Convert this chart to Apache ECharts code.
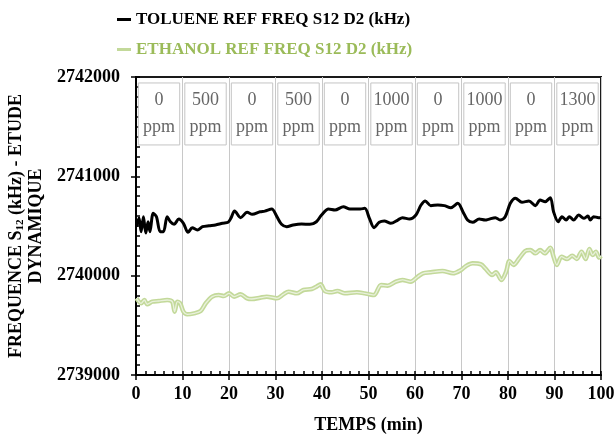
<!DOCTYPE html>
<html>
<head>
<meta charset="utf-8">
<script src="https://cdn.jsdelivr.net/npm/echarts@6/dist/echarts.min.js"></script>
<style>html,body{margin:0;padding:0;background:#fff}#c{width:616px;height:434px}</style>
</head>
<body>
<div id="c"></div>
<script>
// ---- data ----
const tolueneTime = [0.1,0.65,1.1,1.6,2.1,2.6,3.0,3.7,4.4,5.2,5.9,6.7,7.4,8.2,9.2,10.2,11.2,12.1,13.2,14.3,15.7,17.1,18.6,19.8,20.4,21.2,22.5,23.9,25.0,26.7,27.7,29.2,30.3,31.3,32.4,33.8,35.6,37.4,38.8,39.9,41.4,42.8,44.6,46.0,48.2,49.2,50.2,51.2,52.3,53.4,54.8,56.3,57.3,58.8,60.2,61.3,62.2,63.4,64.9,66.3,67.7,69.2,70.3,71.3,72.4,73.8,75.1,75.8,77.3,78.3,79.4,80.5,81.6,83.0,84.5,85.9,86.9,88.0,89.1,89.8,90.8,91.6,92.5,93.2,94.1,95.2,96.3,97.2,97.7,98.4,99.5,100];
const tolueneFreq = [2740493,2740580,2740443,2740594,2740430,2740543,2740443,2740628,2740594,2740443,2740443,2740594,2740543,2740517,2740570,2740527,2740436,2740483,2740460,2740493,2740503,2740510,2740527,2740537,2740577,2740651,2740584,2740638,2740618,2740644,2740650,2740671,2740594,2740517,2740493,2740510,2740520,2740517,2740543,2740611,2740671,2740661,2740694,2740671,2740671,2740678,2740577,2740483,2740537,2740550,2740527,2740560,2740584,2740570,2740611,2740711,2740752,2740705,2740711,2740705,2740684,2740728,2740644,2740560,2740537,2740570,2740560,2740567,2740584,2740560,2740594,2740728,2740779,2740738,2740752,2740705,2740762,2740745,2740785,2740644,2740543,2740594,2740560,2740594,2740560,2740611,2740577,2740600,2740560,2740594,2740584,2740586];
const ethanolTime = [0.1,1.1,1.8,2.4,3.5,4.9,6.7,7.8,8.3,8.9,9.5,10.2,11.0,12.5,13.9,15.0,16.4,17.8,18.9,20.0,21.1,22.5,23.9,24.9,26.7,28.1,30.3,31.7,32.8,34.6,36.0,37.8,38.8,39.7,40.6,42.1,43.3,44.9,47.5,49.2,50.2,51.2,52.7,54.1,55.9,57.3,59.1,60.6,61.7,63.4,65.9,68.2,69.9,71.0,72.4,74.2,75.1,76.6,77.4,78.6,79.6,80.3,81.2,82.3,83.7,84.8,85.9,86.9,87.9,89.1,89.8,90.5,91.5,92.7,93.8,94.8,95.8,96.7,97.5,98.2,98.9,99.6,100];
const ethanolFreq = [2739772,2739722,2739755,2739712,2739738,2739745,2739755,2739738,2739638,2739738,2739722,2739638,2739611,2739621,2739644,2739722,2739789,2739805,2739795,2739822,2739789,2739812,2739772,2739765,2739778,2739789,2739772,2739812,2739839,2739822,2739856,2739866,2739889,2739913,2739846,2739832,2739846,2739822,2739832,2739822,2739812,2739805,2739906,2739899,2739940,2739957,2739940,2739990,2740024,2740034,2740047,2740024,2740057,2740098,2740124,2740114,2740074,2740007,2740034,2739957,2740040,2740148,2740108,2740168,2740248,2740258,2740225,2740258,2740225,2740282,2740191,2740108,2740191,2740168,2740201,2740168,2740242,2740168,2740269,2740208,2740242,2740182,2740200];
const phaseStart = [0,10,20,30,40,50,60,70,80,90];
const phaseConc = ['0','500','0','500','0','1000','0','1000','0','1300'];
const xTicks = [0,10,20,30,40,50,60,70,80,90,100];
const yTicks = [2739000,2740000,2741000,2742000];
const seriesNames = ['TOLUENE REF FREQ S12 D2 (kHz)','ETHANOL REF FREQ S12 D2 (kHz)'];

// ---- chart ----
const FONT = '"Liberation Serif", "DejaVu Serif", serif';
const zip = (a,b) => a.map((t,i)=>[t,b[i]]);
const chart = echarts.init(document.getElementById('c'));
const yMin = yTicks[0], yMax = yTicks[yTicks.length-1];
const boxTop = 2741940, boxBottom = 2741316;

const baseX = {
  type:'value', min:xTicks[0], max:xTicks[xTicks.length-1], interval:10
};
const baseY = {
  type:'value', min:yMin, max:yMax, interval:1000
};
chart.setOption({
  animation:false,
  backgroundColor:'#fff',
  textStyle:{fontFamily:FONT},
  grid:{left:136, right:15, top:77, bottom:59, containLabel:false, outerBoundsMode:'none',
        show:true, borderColor:'#1a1a1a', borderWidth:2, backgroundColor:'transparent'},
  legend:[
    {left:112, top:6, itemWidth:14, itemHeight:3, icon:'rect', data:[{name:seriesNames[0], textStyle:{color:'#000'}}],
     textStyle:{fontFamily:FONT, fontSize:17, fontWeight:'bold'}},
    {left:112, top:36, itemWidth:14, itemHeight:3, icon:'rect', data:[{name:seriesNames[1], textStyle:{color:'#9bbb59'}}],
     textStyle:{fontFamily:FONT, fontSize:17, fontWeight:'bold'}}
  ],
  xAxis:[
    Object.assign({}, baseX, {
      name:'TEMPS (min)', nameLocation:'middle', nameGap:41,
      nameTextStyle:{fontFamily:FONT, fontSize:18, fontWeight:'bold', color:'#000'},
      axisLine:{show:true, onZero:false, lineStyle:{color:'#000', width:2}},
      axisTick:{show:true, inside:true, length:4, lineStyle:{color:'#000', width:1.5}},
      minorTick:{show:true, splitNumber:5, length:4, lineStyle:{color:'#000', width:1.5}},
      axisLabel:{margin:10, fontFamily:FONT, fontSize:18, fontWeight:'bold', color:'#000'},
      splitLine:{show:true, lineStyle:{color:'#c8c8c8', width:1}}
    }),
    Object.assign({}, baseX, {
      position:'bottom', axisLine:{show:false}, axisLabel:{show:false}, splitLine:{show:false},
      axisTick:{show:true, inside:false, length:5, lineStyle:{color:'#000', width:1.5}}
    })
  ],
  yAxis:[
    Object.assign({}, baseY, {
      name:'FREQUENCE S{sub|12} (kHz) - ETUDE\nDYNAMIQUE', nameLocation:'middle', nameGap:80,
      nameTextStyle:{fontFamily:FONT, fontSize:18, fontWeight:'bold', color:'#000', lineHeight:20,
        rich:{sub:{fontFamily:FONT, fontSize:11, fontWeight:'bold', color:'#000', verticalAlign:'bottom', padding:[8,0,0,0]}}},
      axisLine:{show:true, onZero:false, lineStyle:{color:'#000', width:2}},
      axisTick:{show:true, inside:true, length:4, lineStyle:{color:'#000', width:1.5}},
      minorTick:{show:true, splitNumber:10, length:4, lineStyle:{color:'#000', width:1.5}},
      axisLabel:{margin:16, fontFamily:FONT, fontSize:18, fontWeight:'bold', color:'#000',
        formatter:v=>String(v)},
      splitLine:{show:false}
    }),
    Object.assign({}, baseY, {
      position:'left', axisLine:{show:false}, axisLabel:{show:false}, splitLine:{show:false},
      axisTick:{show:true, inside:false, length:5, lineStyle:{color:'#000', width:1.5}}
    })
  ],
  series:[
    {
      name:seriesNames[1], type:'line', data:zip(ethanolTime, ethanolFreq), smooth:0.3, symbol:'none',
      itemStyle:{color:'#c3d99a'}, lineStyle:{color:'#c3d99a', width:4.5}, z:2
    },
    {
      name:'_ethanol_inner', type:'line', data:zip(ethanolTime, ethanolFreq), smooth:0.3, symbol:'none',
      lineStyle:{color:'#e9f1dc', width:1.3}, z:3, silent:true
    },
    {
      name:seriesNames[0], type:'line', data:zip(tolueneTime, tolueneFreq), smooth:0.3, symbol:'none',
      itemStyle:{color:'#000'}, lineStyle:{color:'#000', width:3}, z:4,
      markArea:{
        silent:true,
        itemStyle:{color:'#fff', borderColor:'#c4c4c4', borderWidth:1},
        label:{show:true, position:'inside', fontFamily:FONT, fontSize:18, lineHeight:27, color:'#666'},
        data: phaseStart.map((s,i)=>[
          {name:phaseConc[i]+'\nppm', xAxis:s+0.5, yAxis:boxTop},
          {xAxis:s+9.4, yAxis:boxBottom}
        ])
      }
    }
  ]
});
</script>
</body>
</html>
